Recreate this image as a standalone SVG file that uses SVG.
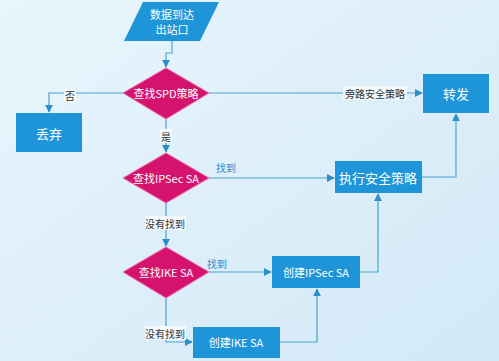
<svg xmlns="http://www.w3.org/2000/svg" width="499" height="361" viewBox="0 0 499 361">
<defs>
<linearGradient id="bg" x1="0" y1="0" x2="1" y2="1">
<stop offset="0" stop-color="#e9f5fc"/>
<stop offset="1" stop-color="#d2e9f7"/>
</linearGradient>
<marker id="arr" viewBox="0 0 10 10" refX="9" refY="5" markerWidth="8" markerHeight="8" markerUnits="userSpaceOnUse" orient="auto">
<path d="M0,0 L10,5 L0,10 z" fill="#2d8fc8"/>
</marker>
<style>
.box{fill:#1f95d9;}
.dia{fill:#d5136f;stroke:#f06aa8;stroke-width:1;}
.t{font-family:"Noto Sans CJK SC","Noto Sans",sans-serif;fill:#ffffff;text-anchor:middle;dominant-baseline:central;font-size:11px;}
.tb{font-size:13px;}
.c{fill:none;stroke:#4aa3cf;stroke-width:1.2;}
.lbl{font-family:"Noto Sans CJK SC","Noto Sans",sans-serif;font-size:10px;fill:#333;text-anchor:middle;dominant-baseline:central;}
.lblb{fill:#2f8ac4;}
.lbg{fill:#f4f9fc;}
</style>
</defs>
<rect width="499" height="361" fill="url(#bg)"/>
<g id="connectors">
<path class="c" d="M172,41 V53 H166 V67" marker-end="url(#arr)"/>
<path class="c" d="M123,93 H49 V112" marker-end="url(#arr)"/>
<path class="c" d="M209,93 H422" marker-end="url(#arr)"/>
<path class="c" d="M166,119 V152" marker-end="url(#arr)"/>
<path class="c" d="M209,178 H334" marker-end="url(#arr)"/>
<path class="c" d="M422,177 H456 V114" marker-end="url(#arr)"/>
<path class="c" d="M166,203 V246" marker-end="url(#arr)"/>
<path class="c" d="M209,272 H271" marker-end="url(#arr)"/>
<path class="c" d="M360,272 H378 V194" marker-end="url(#arr)"/>
<path class="c" d="M166,298 V342 H192" marker-end="url(#arr)"/>
<path class="c" d="M280,342 H317 V289" marker-end="url(#arr)"/>
<rect class="lbg" x="64" y="89" width="12" height="13"/>
<text class="lbl" x="70" y="95">否</text>
<rect class="lbg" x="343" y="86" width="64" height="14"/>
<text class="lbl" x="375" y="93">旁路安全策略</text>
<rect class="lbg" x="160" y="129" width="12" height="14"/>
<text class="lbl" x="166" y="136">是</text>
<text class="lbl lblb" x="226" y="167">找到</text>
<rect class="lbg" x="145" y="216" width="41" height="14"/>
<text class="lbl" x="165" y="223">没有找到</text>
<text class="lbl lblb" x="217" y="263">找到</text>
<rect class="lbg" x="145" y="326" width="41" height="14"/>
<text class="lbl" x="165" y="333">没有找到</text>
</g>
<g id="start">
<polygon points="143,2 219,2 200,41 124,41" class="box"/>
<text class="t" x="172" y="14" font-size="10.5">数据到达</text>
<text class="t" x="172" y="29" font-size="10.5">出站口</text>
</g>
<g id="spd">
<polygon class="dia" points="166,68 209,93 166,119 123,93"/>
<text class="t" x="166" y="93">查找SPD策略</text>
</g>
<g id="discard">
<rect class="box" x="16" y="113" width="66" height="39"/>
<text class="t tb" x="49" y="133">丢弃</text>
</g>
<g id="forward">
<rect class="box" x="423" y="74" width="66" height="39"/>
<text class="t tb" x="456" y="93">转发</text>
</g>
<g id="ipsec">
<polygon class="dia" points="166,153 209,178 166,203 123,178"/>
<text class="t" x="166" y="178">查找IPSec SA</text>
</g>
<g id="exec">
<rect class="box" x="335" y="161" width="87" height="32"/>
<text class="t tb" x="378" y="177">执行安全策略</text>
</g>
<g id="ike">
<polygon class="dia" points="166,247 209,272 166,298 123,272"/>
<text class="t" x="166" y="272">查找IKE SA</text>
</g>
<g id="createipsec">
<rect class="box" x="272" y="256" width="88" height="32"/>
<text class="t" x="316" y="272" font-size="12">创建IPSec SA</text>
</g>
<g id="createike">
<rect class="box" x="193" y="327" width="87" height="31"/>
<text class="t" x="236" y="342" font-size="12">创建IKE SA</text>
</g>
</svg>
